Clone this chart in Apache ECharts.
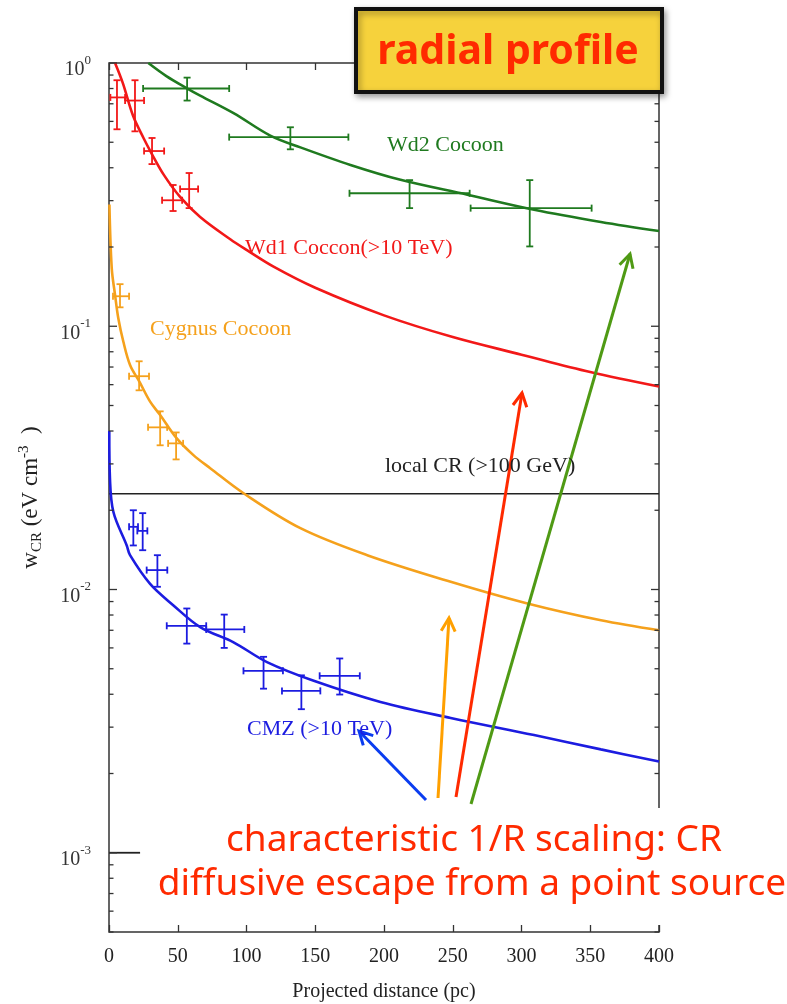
<!DOCTYPE html>
<html><head><meta charset="utf-8">
<script src="https://cdn.jsdelivr.net/npm/echarts@6/dist/echarts.min.js"></script>
<style>html,body{margin:0;padding:0;background:#fff}#c{width:787px;height:1004px}</style>
</head><body><div id="c"></div>
<script>
// ---------- data (x in pc, w in eV cm^-3) ----------
const xTicks = [0, 50, 100, 150, 200, 250, 300, 350, 400];
const yDecades = [0.001, 0.01, 0.1, 1];
// points: [x, w, xLow, xHigh, wLow, wHigh]
const wd2Points = [
  [56.8, 0.80, 24.8, 87.4, 0.72, 0.88],
  [131.9, 0.523, 87.4, 174.1, 0.47, 0.57],
  [218.6, 0.32, 174.9, 262.3, 0.281, 0.359],
  [306.0, 0.281, 263.0, 351.0, 0.201, 0.359]
];
const wd1Points = [
  [5.8, 0.74, 1.0, 11.7, 0.56, 0.86],
  [18.9, 0.72, 11.7, 25.5, 0.55, 0.86],
  [31.3, 0.463, 25.5, 40.1, 0.413, 0.519],
  [46.6, 0.301, 38.6, 53.2, 0.274, 0.344],
  [58.3, 0.332, 51.7, 64.8, 0.281, 0.382]
];
const cygPoints = [
  [8.0, 0.130, 2.9, 14.6, 0.118, 0.1445],
  [21.9, 0.0646, 14.6, 29.1, 0.0571, 0.0736],
  [37.2, 0.0413, 28.4, 42.3, 0.0353, 0.0475],
  [48.8, 0.0359, 43.0, 53.9, 0.0312, 0.0395]
];
const cmzPoints = [
  [17.7, 0.0173, 14.6, 21.1, 0.0147, 0.0200],
  [24.5, 0.0167, 20.6, 27.9, 0.0141, 0.0195],
  [35.2, 0.01185, 27.4, 42.4, 0.01024, 0.0135],
  [56.6, 0.00728, 42.0, 70.7, 0.00623, 0.00847],
  [83.8, 0.00705, 70.7, 98.4, 0.0060, 0.00803],
  [112.4, 0.00491, 97.8, 126.5, 0.0042, 0.00555],
  [139.9, 0.00412, 125.8, 153.7, 0.00351, 0.00472],
  [167.8, 0.0047, 153.2, 182.4, 0.00399, 0.00547]
];
// model curves
const wd2CurveX = [28.6, 42, 57, 66.3, 90.6, 117.3, 139.2, 175.6, 212, 260.6, 309.2, 357.7, 400];
const wd2CurveY = [1.0, 0.89, 0.80, 0.752, 0.645, 0.53, 0.478, 0.41, 0.36, 0.316, 0.277, 0.249, 0.23];
const wd1CurveX = [4.4, 10, 17.5, 25, 31.3, 40, 51.7, 66.3, 88.2, 100, 120, 150, 200, 250, 300, 350, 400];
const wd1CurveY = [1.0, 0.84, 0.63, 0.52, 0.45, 0.375, 0.31, 0.26, 0.214, 0.195, 0.168, 0.14, 0.11, 0.091, 0.078, 0.067, 0.059];
const cygCurveX = [0.3, 2.0, 4.4, 6.8, 10.4, 15.3, 22.1, 29.9, 37.2, 49.3, 61.4, 73.6, 97.9, 139.2, 187.8, 248.5, 304.3, 357.8, 400];
const cygCurveY = [0.29, 0.166, 0.1315, 0.107, 0.0875, 0.0713, 0.0616, 0.0517, 0.046, 0.0375, 0.0324, 0.0289, 0.0232, 0.0171, 0.0135, 0.0107, 0.00885, 0.00764, 0.0070];
const cmzCurveX = [0.2, 0.7, 3.2, 12.9, 15.3, 29.9, 46.9, 66.3, 90.6, 114.9, 148.9, 197.4, 248.5, 309.1, 357.7, 400];
const cmzCurveY = [0.040, 0.0264, 0.0197, 0.0147, 0.0135, 0.0105, 0.0087, 0.0072, 0.0063, 0.0053, 0.0045, 0.00374, 0.00325, 0.0028, 0.00247, 0.00222];
const localCRX = [0, 400];
const localCRY = [0.0231, 0.0231];
const shortRefX = [0, 22.6];
const shortRefY = [0.001, 0.001];

// ---------- styling ----------
const SERIF = '"Liberation Serif", "Times New Roman", serif';
const HAND = '"Noto Sans", "Open Sans", sans-serif';
const C_GREEN = '#1f7a1f', C_RED = '#f21818', C_ORANGE = '#f5a11c', C_BLUE = '#1c1ce0';
const AX = '#333';

function zip(xs, ys) { return xs.map((x, i) => [x, ys[i]]); }

// y tick list (major decades + minor 2..9)
const yTickList = [];
for (let e = -4; e <= 0; e++) {
  for (let m = 1; m <= 9; m++) {
    const v = m * Math.pow(10, e);
    if (v >= 5e-4 - 1e-12 && v <= 1 + 1e-12) yTickList.push([0, v, m === 1 ? 1 : 0]);
  }
}

function errorSeries(name, pts, color) {
  return {
    type: 'custom', name: name, z: 4,
    data: pts,
    encode: { x: 0, y: 1 },
    renderItem: function (params, api) {
      const c = api.coord([api.value(0), api.value(1)]);
      const l = api.coord([api.value(2), api.value(1)]);
      const r = api.coord([api.value(3), api.value(1)]);
      const b = api.coord([api.value(0), api.value(4)]);
      const t = api.coord([api.value(0), api.value(5)]);
      const cap = 3.5;
      const st = { stroke: color, lineWidth: 1.8 };
      const seg = (x1, y1, x2, y2) => ({ type: 'line', shape: { x1, y1, x2, y2 }, style: st });
      return { type: 'group', children: [
        seg(l[0], c[1], r[0], c[1]),
        seg(c[0], t[1], c[0], b[1]),
        seg(l[0], c[1] - cap, l[0], c[1] + cap),
        seg(r[0], c[1] - cap, r[0], c[1] + cap),
        seg(c[0] - cap, t[1], c[0] + cap, t[1]),
        seg(c[0] - cap, b[1], c[0] + cap, b[1])
      ] };
    }
  };
}

function curveSeries(name, xs, ys, color) {
  return {
    type: 'line', name: name, data: zip(xs, ys), showSymbol: false, smooth: 0.35,
    lineStyle: { color: color, width: 2.6 }, z: 3, clip: true
  };
}

function arrow(x1, y1, x2, y2, color) {
  const ang = Math.atan2(y2 - y1, x2 - x1);
  const L = 15, a = Math.PI / 6.5;
  const w1 = [x2 - L * Math.cos(ang - a), y2 - L * Math.sin(ang - a)];
  const w2 = [x2 - L * Math.cos(ang + a), y2 - L * Math.sin(ang + a)];
  return [
    { type: 'line', z: 50, shape: { x1, y1, x2, y2 }, style: { stroke: color, lineWidth: 3 } },
    { type: 'polyline', z: 50, shape: { points: [w1, [x2, y2], w2] }, style: { stroke: color, lineWidth: 3, fill: null } }
  ];
}

function txt(text, x, y, color, size, font, weight, align) {
  return { type: 'text', z: 60, style: {
    text: text, x: x, y: y, fill: color, fontSize: size, fontFamily: font,
    fontWeight: weight || 'normal', align: align || 'left', textAlign: align || 'left',
    verticalAlign: 'middle', textVerticalAlign: 'middle'
  } };
}

const chart = echarts.init(document.getElementById('c'), null, { renderer: 'canvas' });

const graphics = [].concat(
  // plot labels
  txt('Wd2 Cocoon', 387, 145, C_GREEN, 22, SERIF),
  txt('Wd1 Coccon(>10 TeV)', 245, 248, C_RED, 22, SERIF),
  txt('Cygnus Cocoon', 150, 329, C_ORANGE, 22, SERIF),
  txt('local CR (>100 GeV)', 385, 466, '#222', 22, SERIF),
  txt('CMZ (>10 TeV)', 247, 729, C_BLUE, 22, SERIF),
  // arrows
  arrow(426, 800, 359, 731, '#0a3cf0'),
  arrow(438, 798, 449, 618, '#ffa000'),
  arrow(456, 797, 522, 393, '#ff2a00'),
  arrow(471, 804, 630, 254, '#4f9a14'),
  // white box behind annotation text
  [{ type: 'rect', z: 40, shape: { x: 150, y: 808, width: 637, height: 117 }, style: { fill: '#fff' } }],
  txt('characteristic 1/R scaling: CR', 474, 840, '#ff2a00', 37, HAND, 'normal', 'center'),
  txt('diffusive escape from a point source', 472, 884, '#ff2a00', 37, HAND, 'normal', 'center'),
  // title box
  [{ type: 'rect', z: 70, shape: { x: 356, y: 9, width: 306, height: 83 },
     style: { fill: '#f6d23c', stroke: '#111', lineWidth: 4, shadowBlur: 6, shadowColor: 'rgba(0,0,0,0.35)', shadowOffsetX: 2, shadowOffsetY: 3 } }],
  [Object.assign(txt('radial profile', 508, 52, '#ff2a00', 41, HAND, 'bold', 'center'), { z: 71 })]
);

chart.setOption({
  animation: false,
  backgroundColor: '#fff',
  grid: { left: 109, right: 128, top: 63, bottom: 72, show: true, borderColor: AX, borderWidth: 1.5,
          backgroundColor: 'transparent', containLabel: false, outerBoundsMode: 'none' },
  xAxis: [{
    type: 'value', min: 0, max: 400, interval: 50, position: 'bottom',
    name: 'Projected distance (pc)', nameLocation: 'middle', nameGap: 50,
    nameTextStyle: { fontFamily: SERIF, fontSize: 20, color: '#222' },
    axisLine: { show: false },
    axisTick: { show: true, inside: true, length: 7, lineStyle: { color: AX, width: 1.3 } },
    axisLabel: { fontFamily: SERIF, fontSize: 20, color: '#222', margin: 15,
      formatter: v => (xTicks.indexOf(v) >= 0 ? String(v) : '') },
    splitLine: { show: false }
  }, {
    type: 'value', min: 0, max: 400, interval: 50, position: 'top',
    axisLine: { show: false },
    axisTick: { show: true, inside: true, length: 7, lineStyle: { color: AX, width: 1.3 } },
    axisLabel: { show: false }, splitLine: { show: false }
  }],
  yAxis: {
    type: 'log', logBase: 10, min: 5e-4, max: 1,
    name: '{m|w}{sub|CR}{m| (eV cm}{sup|-3}{m|  )}', nameLocation: 'middle', nameGap: 64, nameRotate: 90,
    nameTextStyle: { fontFamily: SERIF, fontSize: 22, color: '#222',
      rich: {
        m: { fontFamily: SERIF, fontSize: 23, color: '#222', lineHeight: 28, verticalAlign: 'middle' },
        sub: { fontFamily: SERIF, fontSize: 15, color: '#222', lineHeight: 28, verticalAlign: 'bottom' },
        sup: { fontFamily: SERIF, fontSize: 15, color: '#222', lineHeight: 15, verticalAlign: 'top' }
      } },
    axisLine: { show: false },
    axisTick: { show: false },
    splitLine: { show: false },
    axisLabel: {
      margin: 18, fontFamily: SERIF, color: '#222', padding: [8, 0, 0, 0],
      formatter: function (v) {
        const e = Math.round(Math.log10(v));
        if (Math.abs(Math.log10(v) - e) > 1e-6 || yDecades.indexOf(Math.pow(10, e)) < 0) return '';
        return '{b|10}{s|' + e + '}';
      },
      rich: {
        b: { fontFamily: SERIF, fontSize: 20, color: '#333', lineHeight: 26, verticalAlign: 'bottom' },
        s: { fontFamily: SERIF, fontSize: 13, color: '#333', lineHeight: 13, verticalAlign: 'top' }
      }
    }
  },
  series: [
    {
      type: 'custom', name: 'yticks', z: 5, data: yTickList, encode: { x: 0, y: 1 }, silent: true,
      renderItem: function (params, api) {
        const v = api.value(1), major = api.value(2);
        const pl = api.coord([0, v]), pr = api.coord([400, v]);
        const len = major ? 8 : 4.5;
        const st = { stroke: AX, lineWidth: 1.3 };
        return { type: 'group', children: [
          { type: 'line', shape: { x1: pl[0], y1: pl[1], x2: pl[0] + len, y2: pl[1] }, style: st },
          { type: 'line', shape: { x1: pr[0], y1: pr[1], x2: pr[0] - len, y2: pr[1] }, style: st }
        ] };
      }
    },
    { type: 'line', name: 'local CR', data: zip(localCRX, localCRY), showSymbol: false, lineStyle: { color: '#222', width: 1.5 }, z: 2 },
    { type: 'line', name: 'ref', data: zip(shortRefX, shortRefY), showSymbol: false, lineStyle: { color: '#222', width: 1.8 }, z: 2 },
    curveSeries('Wd2 curve', wd2CurveX, wd2CurveY, C_GREEN),
    curveSeries('Wd1 curve', wd1CurveX, wd1CurveY, C_RED),
    curveSeries('Cygnus curve', cygCurveX, cygCurveY, C_ORANGE),
    curveSeries('CMZ curve', cmzCurveX, cmzCurveY, C_BLUE),
    errorSeries('Wd2', wd2Points, C_GREEN),
    errorSeries('Wd1', wd1Points, C_RED),
    errorSeries('Cygnus', cygPoints, C_ORANGE),
    errorSeries('CMZ', cmzPoints, C_BLUE)
  ],
  graphic: { elements: graphics }
});
</script></body></html>
